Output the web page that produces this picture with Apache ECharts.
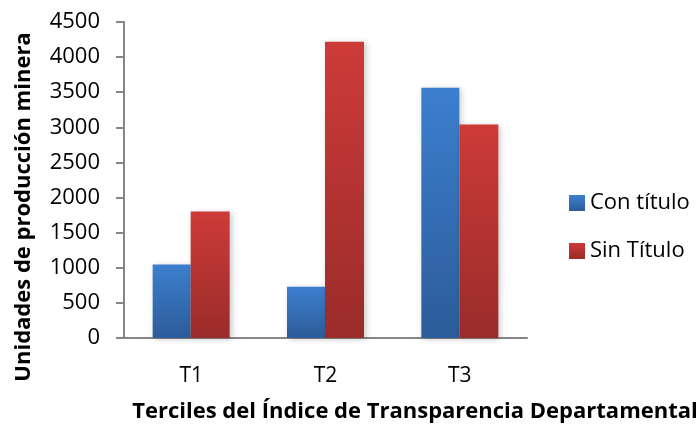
<!DOCTYPE html>
<html>
<head>
<meta charset="utf-8">
<script src="https://cdn.jsdelivr.net/npm/echarts@6/dist/echarts.min.js"></script>
<style>
  html, body { margin: 0; padding: 0; background: #fff; }
  #chart { width: 700px; height: 425px; }
</style>
</head>
<body>
<div id="chart"></div>
<script>
// datos
var categories = ['T1', 'T2', 'T3'];
var conTitulo = [1045, 730, 3565];
var sinTitulo = [1800, 4220, 3040];
var yTicks = { min: 0, max: 4500, interval: 500 };

var FONT = '"Open Sans", "Liberation Sans", sans-serif';

function grad(top, bottom) {
  return new echarts.graphic.LinearGradient(0, 0, 0, 1, [
    { offset: 0, color: top },
    { offset: 1, color: bottom }
  ]);
}

var chart = echarts.init(document.getElementById('chart'), null, { renderer: 'canvas' });

var option = {
  animation: false,
  backgroundColor: '#fff',
  grid: { left: 124, right: 173, top: 22, bottom: 87 },
  legend: {
    orient: 'vertical',
    left: 564,
    top: 187,
    icon: 'rect',
    itemWidth: 16,
    itemHeight: 16,
    itemGap: 26,
    textStyle: { fontFamily: FONT, fontSize: 22, color: '#000' },
    data: ['Con título', 'Sin Título']
  },
  xAxis: {
    type: 'category',
    data: categories,
    axisLine: { lineStyle: { color: '#868686', width: 2 } },
    axisTick: { show: false },
    axisLabel: { fontFamily: FONT, fontSize: 21, color: '#000', margin: 28 }
  },
  yAxis: {
    type: 'value',
    min: yTicks.min,
    max: yTicks.max,
    interval: yTicks.interval,
    axisLine: { show: true, lineStyle: { color: '#868686', width: 2 } },
    axisTick: { show: true, length: 8, lineStyle: { color: '#868686', width: 2 } },
    splitLine: { show: false },
    axisLabel: {
      fontFamily: FONT, fontSize: 22, color: '#000', margin: 24,
      formatter: function (v) { return String(v); }
    }
  },
  graphic: [
    {
      type: 'text',
      x: 24, y: 207,
      rotation: Math.PI / 2,
      style: {
        text: 'Unidades de producción minera',
        fontFamily: FONT, fontSize: 22, fontWeight: 'bold', fill: '#000',
        align: 'center', verticalAlign: 'middle'
      }
    },
    {
      type: 'text',
      x: 415, y: 412,
      style: {
        text: 'Terciles del Índice de Transparencia Departamental',
        fontFamily: FONT, fontSize: 22, fontWeight: 'bold', fill: '#000',
        align: 'center', verticalAlign: 'middle'
      }
    }
  ],
  series: [
    {
      name: 'Con título',
      type: 'bar',
      data: conTitulo,
      barWidth: 38,
      barGap: '0%',
      itemStyle: {
        color: grad('#3c7fcf', '#2c5c99'),
        shadowColor: 'rgba(0,0,0,0.22)', shadowBlur: 6, shadowOffsetX: 2, shadowOffsetY: 1
      }
    },
    {
      name: 'Sin Título',
      type: 'bar',
      data: sinTitulo,
      barWidth: 39,
      itemStyle: {
        color: grad('#cd3b38', '#9a2c2a'),
        shadowColor: 'rgba(0,0,0,0.22)', shadowBlur: 6, shadowOffsetX: 2, shadowOffsetY: 1
      }
    }
  ]
};

chart.setOption(option);
</script>
</body>
</html>
